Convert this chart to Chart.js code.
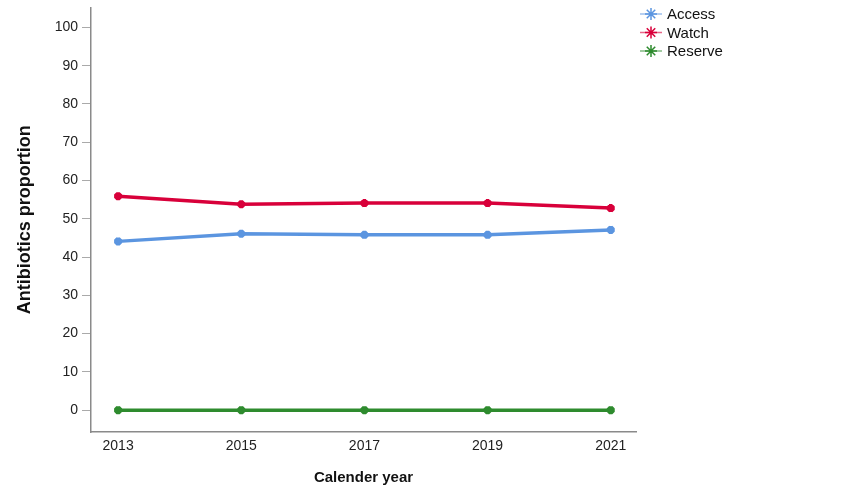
<!DOCTYPE html>
<html>
<head>
<meta charset="utf-8">
<script src="https://cdn.jsdelivr.net/npm/chart.js@4/dist/chart.umd.min.js"></script>
<style>
  html, body { margin: 0; padding: 0; background: #fff; }
  #wrap { width: 851px; height: 501px; }
</style>
</head>
<body>
<div id="wrap"><canvas id="grafico" width="851" height="501"></canvas></div>
<script>
const anos = [2013, 2015, 2017, 2019, 2021];
const access = [44.1, 46.1, 45.8, 45.8, 47.1];
const watch = [55.9, 53.8, 54.1, 54.1, 52.8];
const reserve = [0, 0, 0, 0, 0];
const yTicks = [0, 10, 20, 30, 40, 50, 60, 70, 80, 90, 100];

const fonte = "'Liberation Sans', Arial, sans-serif";

function pontos(valores) {
    return anos.map((ano, i) => ({ x: ano, y: valores[i] }));
}

// legenda desenhada à mão (linha + estrela), como no SPSS
const legendaPlugin = {
    id: 'legendaManual',
    afterDraw(chart) {
        const ctx = chart.ctx;
        const itens = chart.data.datasets;
        ctx.save();
        ctx.font = '15px ' + fonte;
        ctx.textBaseline = 'middle';
        itens.forEach((ds, i) => {
            const y = 14 + i * 18.5;
            ctx.strokeStyle = ds.borderColor;
            ctx.globalAlpha = 0.6;
            ctx.lineWidth = 1.5;
            ctx.beginPath();
            ctx.moveTo(640, y);
            ctx.lineTo(662, y);
            ctx.stroke();
            ctx.globalAlpha = 1;
            Chart.helpers.drawPoint(ctx, { pointStyle: 'star', radius: 6, rotation: 0, borderWidth: 1 }, 651, y);
            ctx.fillStyle = '#111';
            ctx.fillText(ds.label, 667, y + 1);
        });
        ctx.restore();
    }
};

const ctx = document.getElementById('grafico').getContext('2d');
const grafico = new Chart(ctx, {
    type: 'line',
    data: {
        datasets: [
            { label: 'Access', data: pontos(access), borderColor: '#5b95e0', backgroundColor: '#5b95e0' },
            { label: 'Watch', data: pontos(watch), borderColor: '#d8003a', backgroundColor: '#d8003a' },
            { label: 'Reserve', data: pontos(reserve), borderColor: '#2e8b2e', backgroundColor: '#2e8b2e' }
        ].map(d => Object.assign(d, {
            borderWidth: 3.5,
            tension: 0
        }))
    },
    options: {
        responsive: false,
        animation: false,
        elements: {
            point: {
                pointStyle: 'star',
                radius: 4,
                borderWidth: 1.5
            }
        },
        layout: { padding: { left: 10, top: 0, right: 215, bottom: 10 } },
        plugins: {
            legend: { display: false },
            tooltip: { enabled: false }
        },
        scales: {
            x: {
                type: 'linear',
                min: 2012.56,
                max: 2021.41,
                afterBuildTicks: (axis) => { axis.ticks = anos.map(v => ({ value: v })); },
                afterFit: (axis) => { axis.height = 59; },
                grid: { display: false, drawTicks: false },
                border: { color: '#8a8a8a', width: 1.5 },
                ticks: {
                    color: '#222',
                    font: { family: fonte, size: 14 },
                    padding: 6,
                    maxRotation: 0,
                    callback: (v) => String(v)
                },
                title: {
                    display: true,
                    text: 'Calender year',
                    color: '#111',
                    font: { family: fonte, size: 15, weight: 'bold' },
                    padding: { top: 14 }
                }
            },
            y: {
                min: -5.7,
                max: 105.2,
                afterBuildTicks: (axis) => { axis.ticks = yTicks.map(v => ({ value: v })); },
                afterFit: (axis) => { axis.width = 81; },
                grid: { display: true, drawOnChartArea: false, drawTicks: true, tickLength: 9, color: '#aaa' },
                border: { color: '#8a8a8a', width: 1.5 },
                ticks: {
                    color: '#222',
                    font: { family: fonte, size: 14, lineHeight: 0.3 },
                    padding: 4
                },
                title: {
                    display: true,
                    text: 'Antibiotics proportion',
                    color: '#111',
                    font: { family: fonte, size: 18, weight: 'bold' },
                    padding: { bottom: 12 }
                }
            }
        }
    },
    plugins: [legendaPlugin]
});
</script>
</body>
</html>
